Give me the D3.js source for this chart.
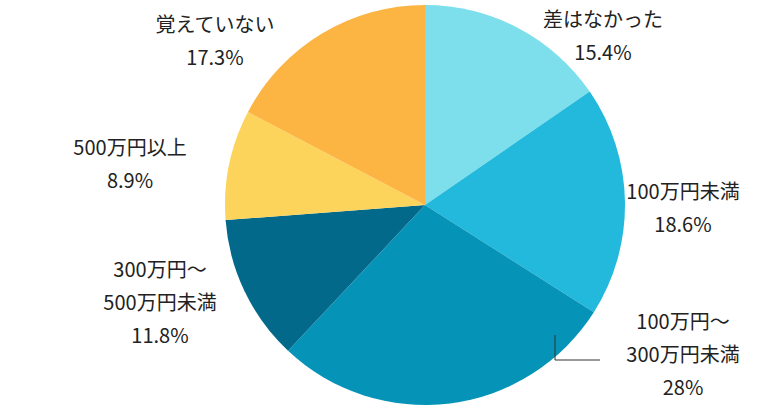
<!DOCTYPE html><html><head><meta charset="utf-8">
<script src="https://cdn.jsdelivr.net/npm/d3@7"></script>
<style>body{margin:0;background:#fff}text{font-family:"Noto Sans CJK JP","Noto Sans",sans-serif;fill:#222}</style></head><body>
<svg id="c" width="780" height="410"></svg>
<script>
const categories=["差はなかった","100万円未満","100万円～\n300万円未満","300万円～\n500万円未満","500万円以上","覚えていない"];
const values=[15.4,18.6,28,11.8,8.9,17.3];
const valueLabels=["15.4%","18.6%","28%","11.8%","8.9%","17.3%"];
const colors=["#7ddfec","#22b9dc","#0594b8","#03698b","#fcd45c","#fcb443"];
const labelPos=[[603,20],[683,192],[683,322],[160,270],[130,148],[215,25]];
const svg=d3.select("#c"),cx=425,cy=205,R=200;
const pie=d3.pie().sort(null).value(d=>d)(values);
const arc=d3.arc().innerRadius(0).outerRadius(R);
const g=svg.append("g").attr("transform",`translate(${cx},${cy})`);
g.selectAll("path").data(pie).join("path").attr("d",arc).attr("fill",(d,i)=>colors[i]);
svg.append("polyline").attr("points","555,335 555,360 600,360").attr("fill","none").attr("stroke","#333").attr("stroke-width",1);
categories.forEach((c,i)=>{
  const lines=c.split("\n").concat([valueLabels[i]]);
  const t=svg.append("text").attr("text-anchor","middle").attr("font-size",20);
  lines.forEach((l,j)=>t.append("tspan").attr("x",labelPos[i][0]).attr("y",labelPos[i][1]+j*33+7).text(l));
});
</script></body></html>
